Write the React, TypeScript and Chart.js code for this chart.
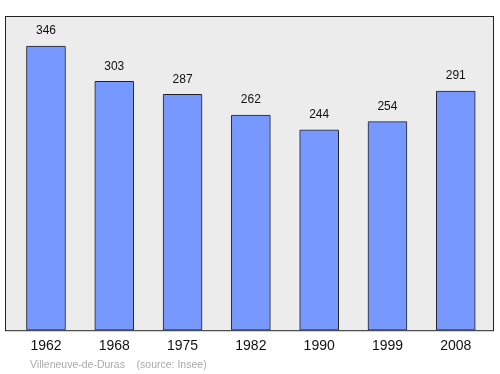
import React, { useEffect, useRef } from "react";
import { Chart, registerables } from "chart.js";

Chart.register(...registerables);

const years = ["1962", "1968", "1975", "1982", "1990", "1999", "2008"];
const population = [346, 303, 287, 262, 244, 254, 291];
const sourceText = "Villeneuve-de-Duras    (source: Insee)";

export default function App() {
  const ref = useRef<HTMLCanvasElement | null>(null);
  useEffect(() => {
    document.body.style.margin = "0";
    const canvas = ref.current;
    if (!canvas) return;
    const bgPlugin = {
      id: "bgPlugin",
      beforeDraw(chart: any) {
        const { ctx, chartArea: a } = chart;
        ctx.save();
        ctx.fillStyle = "#ffffff";
        ctx.fillRect(0, 0, chart.width, chart.height);
        ctx.fillStyle = "#ececec";
        ctx.fillRect(a.left, a.top, a.right - a.left, a.bottom - a.top);
        ctx.restore();
      },
      afterDatasetsDraw(chart: any) {
        const { ctx, chartArea: a } = chart;
        ctx.save();
        ctx.strokeStyle = "#222222";
        ctx.lineWidth = 1;
        ctx.strokeRect(a.left + 0.5, a.top + 0.5, a.right - a.left - 1, a.bottom - a.top);
        const meta = chart.getDatasetMeta(0);
        ctx.fillStyle = "#111111";
        ctx.font = "12px 'Liberation Sans', Arial, sans-serif";
        ctx.textAlign = "center";
        ctx.textBaseline = "middle";
        meta.data.forEach((el: any, i: number) => {
          ctx.fillText(String(population[i]), el.x, el.y - 15);
        });
        ctx.fillStyle = "#aaaaaa";
        ctx.font = "10.5px 'Liberation Sans', Arial, sans-serif";
        ctx.textAlign = "left";
        ctx.fillText(sourceText, 30, 365);
        ctx.restore();
      },
    };
    const chart = new Chart(canvas, {
      type: "bar",
      data: {
        datasets: [
          {
            data: population.map((v, i) => ({ x: i, y: v })),
            backgroundColor: "#7799ff",
            borderColor: "#222222",
            borderWidth: 1,
            borderRadius: 1,
            borderSkipped: false,
            barThickness: 39,
          },
        ],
      },
      options: {
        animation: false,
        responsive: false,
        devicePixelRatio: 1,
        layout: { padding: { left: 5, right: 6, top: 16, bottom: 11 } },
        plugins: { legend: { display: false }, tooltip: { enabled: false } },
        scales: {
          x: {
            type: "linear",
            offset: false,
            min: -0.6,
            max: 6.56,
            grid: { display: false, drawTicks: false, offset: false },
            border: { display: false },
            afterBuildTicks(axis: any) {
              axis.ticks = years.map((_, i) => ({ value: i }));
            },
            ticks: {
              padding: 8,
              color: "#111111",
              font: { family: "'Liberation Sans', Arial, sans-serif", size: 14 },
              callback: (v: any) => years[v as number] ?? "",
              maxRotation: 0,
              autoSkip: false,
            },
          },
          y: {
            display: false,
            min: 0,
            max: 382.5,
          },
        },
      },
      plugins: [bgPlugin],
    } as any);
    return () => chart.destroy();
  }, []);
  return <canvas ref={ref} width={500} height={374} style={{ display: "block" }} />;
}
